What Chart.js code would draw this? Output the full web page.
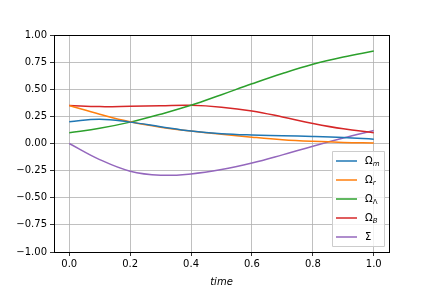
<!DOCTYPE html>
<html>
<head>
<meta charset="utf-8">
<script src="https://cdn.jsdelivr.net/npm/chart.js@4.4.1/dist/chart.umd.min.js"></script>
<style>
  html, body { margin: 0; padding: 0; background: #fff; }
  #wrap { width: 432px; height: 288px; }
</style>
</head>
<body>
<div id="wrap"><canvas id="line-chart" width="432" height="288"></canvas></div>
<script>
// data
var times = [0.0, 0.1, 0.2, 0.3, 0.4, 0.5, 0.6, 0.7, 0.8, 0.9, 1.0];
var omegaM = [0.20, 0.224, 0.197, 0.155, 0.115, 0.09, 0.078, 0.072, 0.065, 0.055, 0.04];
var omegaR = [0.35, 0.27, 0.20, 0.15, 0.115, 0.085, 0.058, 0.035, 0.02, 0.01, 0.005];
var omegaL = [0.10, 0.14, 0.197, 0.27, 0.352, 0.45, 0.55, 0.645, 0.73, 0.797, 0.852];
var omegaB = [0.35, 0.34, 0.343, 0.348, 0.352, 0.335, 0.30, 0.245, 0.185, 0.135, 0.10];
var sigma = [0.0, -0.148, -0.255, -0.292, -0.28, -0.24, -0.18, -0.105, -0.025, 0.05, 0.12];
var xTicks = [0.0, 0.2, 0.4, 0.6, 0.8, 1.0];
var yTicks = [-1.0, -0.75, -0.5, -0.25, 0.0, 0.25, 0.5, 0.75, 1.0];

var names = ['m', 'r', 'Λ', 'B', ''];
var colors = ['#1f77b4', '#ff7f0e', '#2ca02c', '#d62728', '#9467bd'];
var series = [omegaM, omegaR, omegaL, omegaB, sigma];

function pts(ys) {
  return ys.map(function (y, i) { return { x: times[i], y: y }; });
}

var datasets = series.map(function (ys, i) {
  return {
    label: names[i] === '' ? 'Σ' : 'Ω' + names[i],
    data: pts(ys),
    borderColor: colors[i],
    borderWidth: 1.5,
    pointRadius: 0,
    fill: false,
    tension: 0.4
  };
});

var FONT = '"DejaVu Sans", sans-serif';

// box around the plot + legend in the lower right
var boxPlugin = {
  id: 'box',
  afterDraw: function (chart) {
    var c = chart.ctx, a = chart.chartArea;
    c.save();
    c.strokeStyle = '#000';
    c.lineWidth = 1;
    c.strokeRect(Math.round(a.left) + 0.5, Math.round(a.top) + 0.5,
      Math.round(a.right - a.left), Math.round(a.bottom - a.top));

    // legend
    var lx = 332.5, ly = 151.5, lw = 52, lh = 95;
    c.fillStyle = 'rgba(255,255,255,0.8)';
    c.strokeStyle = '#cccccc';
    c.beginPath();
    c.rect(lx, ly, lw, lh);
    c.fill();
    c.stroke();
    for (var i = 0; i < datasets.length; i++) {
      var yy = 161 + i * 19;
      c.strokeStyle = colors[i];
      c.lineWidth = 1.5;
      c.beginPath();
      c.moveTo(336, yy);
      c.lineTo(357, yy);
      c.stroke();
      c.fillStyle = '#000';
      c.textBaseline = 'middle';
      c.textAlign = 'left';
      c.font = '10px ' + FONT;
      if (names[i] === '') {
        c.fillText('Σ', 365, yy);
      } else {
        c.fillText('Ω', 365, yy);
        var w = c.measureText('Ω').width;
        c.font = (names[i] === 'Λ' ? '' : 'italic ') + '7px ' + FONT;
        c.fillText(names[i], 365 + w, yy + 3);
      }
    }
    c.restore();
  }
};

function fmt(v, d) {
  return v.toFixed(d).replace('-', '\u2212');
}

new Chart(document.getElementById('line-chart'), {
  type: 'line',
  data: { datasets: datasets },
  options: {
    responsive: false,
    animation: false,
    layout: { padding: { left: 0, right: 43, top: 35, bottom: 0 } },
    plugins: {
      legend: { display: false },
      tooltip: { enabled: false }
    },
    scales: {
      x: {
        type: 'linear',
        min: -0.05,
        max: 1.05,
        afterBuildTicks: function (s) { s.ticks = xTicks.map(function (v) { return { value: v }; }); },
        afterFit: function (s) { s.height = 36; },
        grid: { color: '#b0b0b0', lineWidth: 0.8, tickLength: 4, tickColor: '#000' },
        border: { display: false },
        ticks: {
          color: '#000',
          font: { family: FONT, size: 10 },
          padding: 2,
          maxRotation: 0,
          callback: function (v) { return fmt(v, 1); }
        },
        title: {
          display: true,
          text: 'time',
          color: '#000',
          font: { family: FONT, size: 10, style: 'italic' },
          padding: { top: 2, bottom: 0 }
        }
      },
      y: {
        min: -1,
        max: 1,
        afterBuildTicks: function (s) { s.ticks = yTicks.map(function (v) { return { value: v }; }); },
        afterFit: function (s) { s.width = 54; },
        grid: { color: '#b0b0b0', lineWidth: 0.8, tickLength: 4, tickColor: '#000' },
        border: { display: false },
        ticks: {
          color: '#000',
          font: { family: FONT, size: 10 },
          padding: 3,
          callback: function (v) { return fmt(v, 2); }
        }
      }
    }
  },
  plugins: [boxPlugin]
});
</script>
</body>
</html>
